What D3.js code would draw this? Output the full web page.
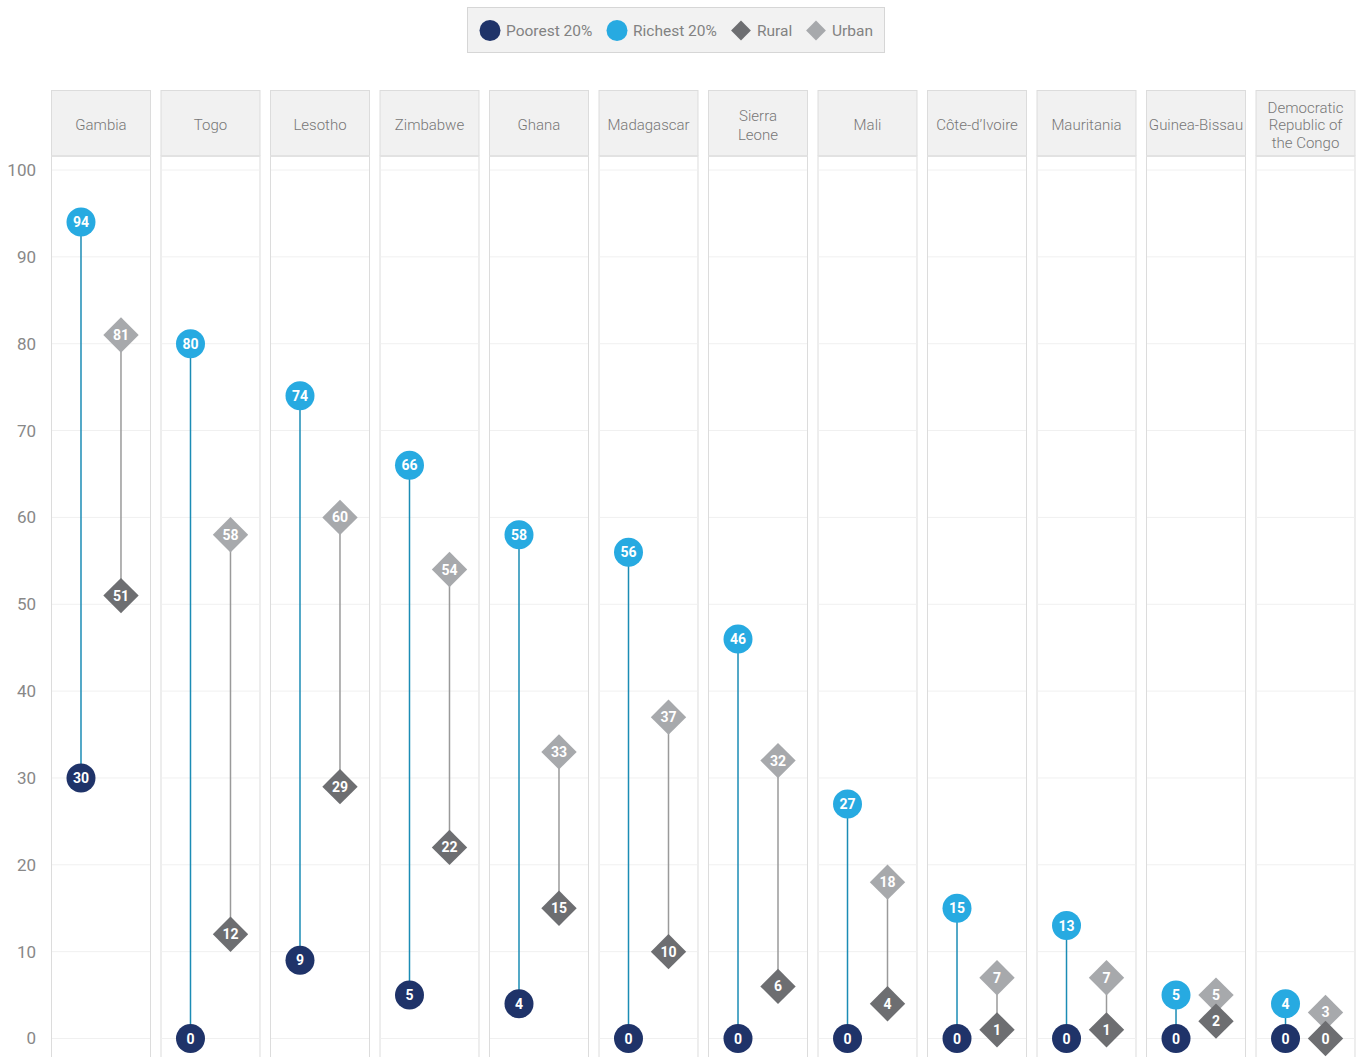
<!DOCTYPE html>
<html><head><meta charset="utf-8">
<script src="https://cdn.jsdelivr.net/npm/d3@7"></script>
<style>
html,body{margin:0;padding:0;background:#fff;}
svg text{font-family:Roboto,"Liberation Sans",sans-serif;}
</style></head>
<body><svg id="chart" width="1356" height="1057"></svg>
<script>
const countries = ["Gambia","Togo","Lesotho","Zimbabwe","Ghana","Madagascar","Sierra Leone","Mali","Côte-d’Ivoire","Mauritania","Guinea-Bissau","Democratic Republic of the Congo"];
const countryLines = [["Gambia"],["Togo"],["Lesotho"],["Zimbabwe"],["Ghana"],["Madagascar"],["Sierra","Leone"],["Mali"],["Côte-d’Ivoire"],["Mauritania"],["Guinea-Bissau"],["Democratic","Republic of","the Congo"]];
const poorest = [30,0,9,5,4,0,0,0,0,0,0,0];
const richest = [94,80,74,66,58,56,46,27,15,13,5,4];
const rural   = [51,12,29,22,15,10,6,4,1,1,2,0];
const urban   = [81,58,60,54,33,37,32,18,7,7,5,3];
const yTicks  = [0,10,20,30,40,50,60,70,80,90,100];
const legendItems = ["Poorest 20%","Richest 20%","Rural","Urban"];

const C = {poor:"#1f3369", rich:"#27aae1", rural:"#6d6e71", urban:"#a7a9ac", wline:"#1b8cb5", lline:"#9a9a9a"};

const svg = d3.select("#chart");
const x = d3.scaleBand().domain(countries).range([51,1355.5]).paddingInner(0.087);
const inner = d3.scalePoint().domain(["wealth","loc"]).range([0,x.bandwidth()]).padding(0.75);
const y = d3.scaleLinear().domain([0,100]).range([1038.5,170]);

// panels
const panel = svg.append("g").selectAll("g").data(countries).join("g")
  .attr("transform", d=>`translate(${x(d)},0)`);
panel.append("rect").attr("x",0.5).attr("y",156).attr("width",x.bandwidth()-1).attr("height",1000)
  .attr("fill","#fff").attr("stroke","#dcdcdc");
panel.each(function(){
  const g = d3.select(this);
  g.selectAll("line.grid").data(yTicks).join("line").attr("class","grid")
    .attr("x1",1).attr("x2",x.bandwidth()-1).attr("y1",d=>y(d)).attr("y2",d=>y(d))
    .attr("stroke","#f0f0f0").attr("stroke-width",1);
});
panel.append("rect").attr("x",0.5).attr("y",90.5).attr("width",x.bandwidth()-1).attr("height",65)
  .attr("fill","#f1f1f1").attr("stroke","#dcdcdc");
panel.append("line").attr("x1",0.5).attr("x2",x.bandwidth()-0.5).attr("y1",156).attr("y2",156).attr("stroke","#e2e2e2").attr("stroke-width",2);
panel.append("text").attr("text-anchor","middle").attr("fill","#777").attr("font-size",15).attr("font-weight",300)
  .each(function(d,i){
    const lines = countryLines[i];
    const lh = lines.length>2 ? 17.5 : 19;
    const y0 = 124.5 - (lines.length-1)*lh/2 + 5.5;
    d3.select(this).selectAll("tspan").data(lines).join("tspan")
      .attr("x",x.bandwidth()/2).attr("y",(l,j)=>y0+j*lh).text(l=>l);
  });

// y axis
const ax = svg.append("g").attr("transform","translate(38,0)")
  .call(d3.axisLeft(y).tickValues(yTicks).tickSize(0).tickPadding(2));
ax.select(".domain").remove();
ax.selectAll("text").attr("font-size",17).attr("fill","#888").attr("font-family","Roboto,sans-serif");

// marks
const rows = countries.map((c,i)=>({c, p:poorest[i], r:richest[i], ru:rural[i], u:urban[i]}));
const marks = svg.append("g").selectAll("g").data(rows).join("g")
  .attr("transform", d=>`translate(${x(d.c)},0)`);
const wx = inner("wealth"), lx = inner("loc");
marks.append("line").attr("x1",wx).attr("x2",wx).attr("y1",d=>y(d.p)).attr("y2",d=>y(d.r))
  .attr("stroke",C.wline).attr("stroke-width",1.5);
marks.append("line").attr("x1",lx).attr("x2",lx).attr("y1",d=>y(d.ru)).attr("y2",d=>y(d.u))
  .attr("stroke",C.lline).attr("stroke-width",1.5);

const diamond = d3.symbol().type(d3.symbolSquare).size(25*25);
function addDiamond(sel, key, color){
  const g = sel.append("g").attr("transform", d=>`translate(${lx},${y(d[key])})`);
  g.append("path").attr("d",diamond).attr("transform","rotate(45)").attr("fill",color);
  g.append("text").attr("text-anchor","middle").attr("dy","0.36em").attr("fill","#fff")
    .attr("font-size",14).attr("font-weight","bold").text(d=>d[key]);
}
function addCircle(sel, key, color){
  const g = sel.append("g").attr("transform", d=>`translate(${wx},${y(d[key])})`);
  g.append("circle").attr("r",14.5).attr("fill",color);
  g.append("text").attr("text-anchor","middle").attr("dy","0.36em").attr("fill","#fff")
    .attr("font-size",14).attr("font-weight","bold").text(d=>d[key]);
}
addDiamond(marks,"u",C.urban);
addDiamond(marks,"ru",C.rural);
addCircle(marks,"r",C.rich);
addCircle(marks,"p",C.poor);

// legend
const lg = svg.append("g");
lg.append("rect").attr("x",467.5).attr("y",7.5).attr("width",417).attr("height",45)
  .attr("fill","#f2f2f2").attr("stroke","#d6d6d6");
const legX = [490,617,741,816];
const legCol = [C.poor,C.rich,C.rural,C.urban];
legendItems.forEach((t,i)=>{
  if(i<2) lg.append("circle").attr("cx",legX[i]).attr("cy",30.5).attr("r",10.5).attr("fill",legCol[i]);
  else lg.append("path").attr("d",d3.symbol().type(d3.symbolSquare).size(14*14)())
    .attr("transform",`translate(${legX[i]},30.5) rotate(45)`).attr("fill",legCol[i]);
  lg.append("text").attr("x",legX[i]+16).attr("y",36).attr("font-size",15.5).attr("fill","#828282").text(t);
});
</script></body></html>
